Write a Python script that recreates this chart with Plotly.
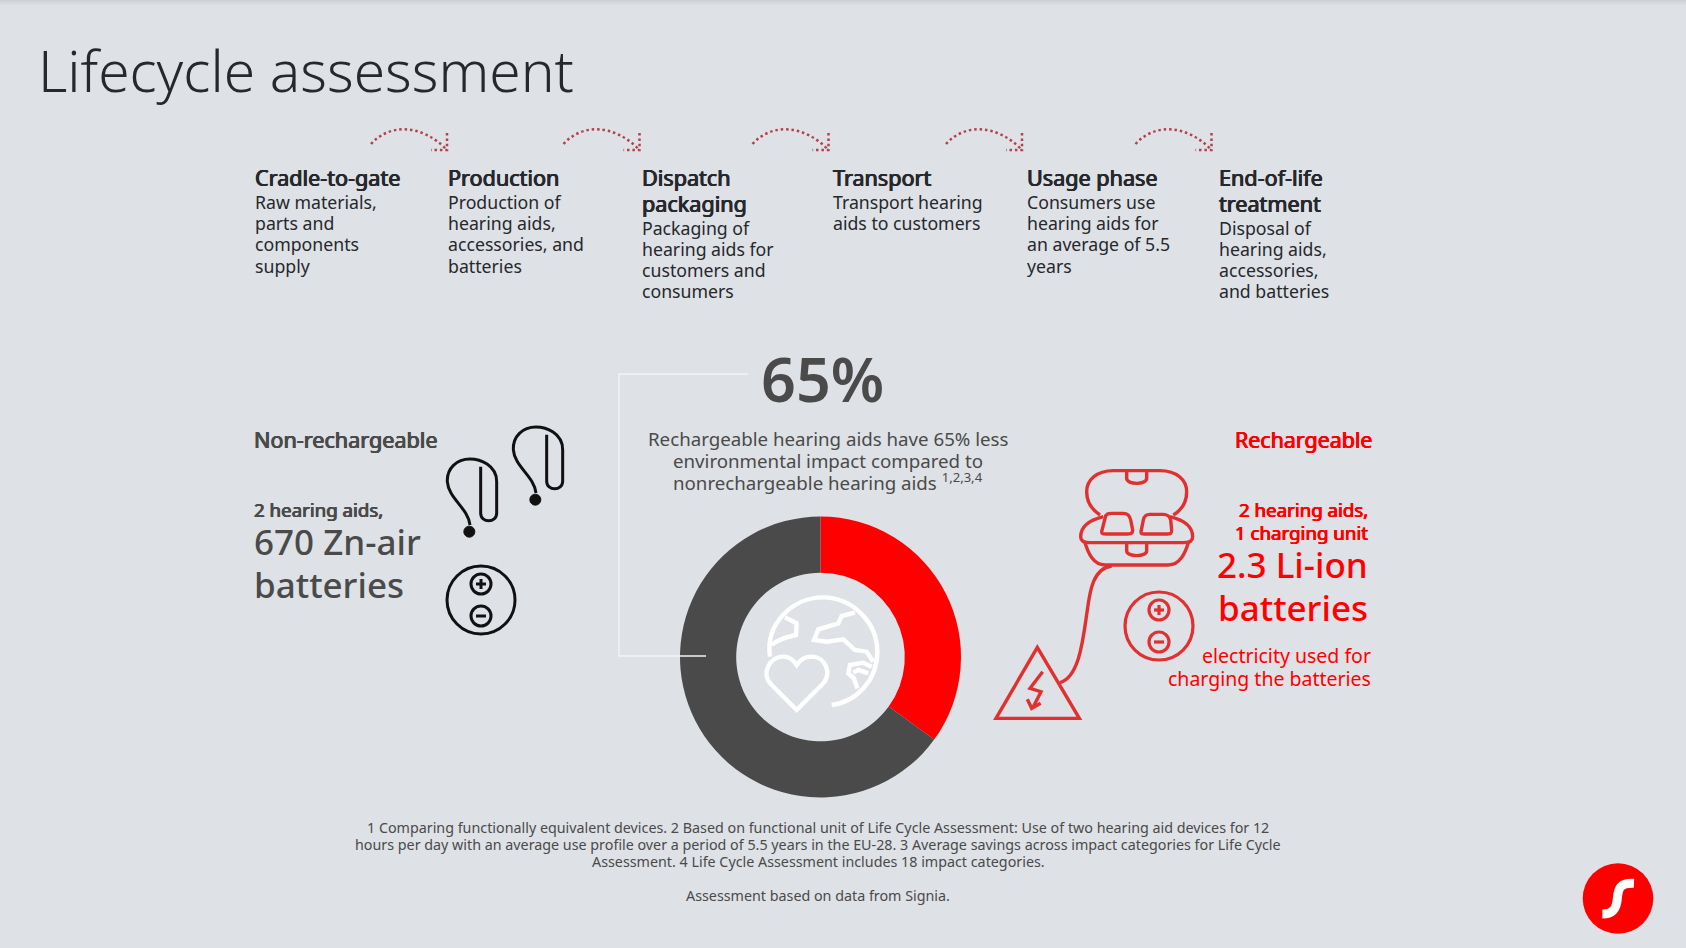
import re
import plotly.graph_objects as go

W, H = 1686, 948
BG = "#dee1e6"
DARK = "#4a4a4a"
INK = "#26282c"
RED = "#ff0000"
ICON_RED = "#e03030"
FONT = "Noto Sans"

title = "Lifecycle assessment"

# donut
slice_labels = ["Rechargeable", "Non-rechargeable"]
slice_values = [35, 65]
slice_colors = [RED, DARK]

# lifecycle steps
step_titles = [
    ["Cradle-to-gate"],
    ["Production"],
    ["Dispatch", "packaging"],
    ["Transport"],
    ["Usage phase"],
    ["End-of-life", "treatment"],
]
step_texts = [
    ["Raw materials,", "parts and", "components", "supply"],
    ["Production of", "hearing aids,", "accessories, and", "batteries"],
    ["Packaging of", "hearing aids for", "customers and", "consumers"],
    ["Transport hearing", "aids to customers"],
    ["Consumers use", "hearing aids for", "an average of 5.5", "years"],
    ["Disposal of", "hearing aids,", "accessories,", "and batteries"],
]
step_x = [253, 446, 640, 831, 1024.5, 1216.5]
arrow_x = [371, 563.5, 752.5, 946, 1135.5]

summary_big = "65%"
summary_lines = [
    "Rechargeable hearing aids have 65% less",
    "environmental impact compared to",
    "nonrechargeable hearing aids <sup>1,2,3,4</sup>",
]
footnotes = [
    "1 Comparing functionally equivalent devices. 2 Based on functional unit of Life Cycle Assessment: Use of two hearing aid devices for 12",
    "hours per day with an average use profile over a period of 5.5 years in the EU-28. 3 Average savings across impact categories for Life Cycle",
    "Assessment. 4 Life Cycle Assessment includes 18 impact categories.",
]
source_note = "Assessment based on data from Signia."

# soft shadow along the top edge of the page
top_shade = ["#cdd0d4", "#d1d4d8", "#d5d8dc", "#d8dbdf", "#dbdee3"]


def crop_path(d, ox, oy, s=1 / 3):
    # icon outlines were traced on 3x crops, bring them back to page pixels
    nums = iter(range(10000))

    def conv(m):
        v = float(m.group())
        return f"{ox + v * s:.2f}" if next(nums) % 2 == 0 else f"{oy + v * s:.2f}"

    return re.sub(r"-?\d+\.?\d*", conv, d)


shapes = []
annotations = []


def stroke(d, color, width=2.8, dash=None, fill=None):
    shapes.append(dict(type="path", path=d, xref="x", yref="y",
                       line=dict(color=color, width=width, dash=dash),
                       fillcolor=fill or "rgba(0,0,0,0)"))


def circle(cx, cy, r, color, width=2.8, fill=None):
    shapes.append(dict(type="circle", xref="x", yref="y",
                       x0=cx - r, x1=cx + r, y0=cy - r, y1=cy + r,
                       line=dict(color=color, width=width),
                       fillcolor=fill or "rgba(0,0,0,0)"))


def label(x, y, text, size, color=INK, anchor="left", weight=400, fake_bold=False):
    font = dict(family=FONT, size=size, color=color, weight=weight)
    if fake_bold:
        # the reference headings are a regular face thickened, not a true bold
        font["shadow"] = f"0.45px 0 0 {color}, -0.45px 0 0 {color}, 0 0.25px 0 {color}"
    annotations.append(dict(x=x, y=y, xref="x", yref="y", text=text, showarrow=False,
                            xanchor=anchor, yanchor="middle", align=anchor, font=font))


def battery(cx, cy, color, width=3):
    circle(cx, cy, 34, color, width)
    for yy in (cy - 16, cy + 16):
        circle(cx, yy, 10, color, width)
        stroke(f"M {cx - 5} {yy} L {cx + 5} {yy}", color, width)
    stroke(f"M {cx} {cy - 21} L {cx} {cy - 11}", color, width)


def hearing_aid(ox, oy):
    d = ("M 690 345 C 685 295 625 265 622 215 C 620 175 650 147 690 147 "
         "C 720 147 770 165 770 215 L 770 310 C 770 340 722 340 722 310 L 722 170")
    stroke(crop_path(d, ox, oy), "#111111", 3)
    circle(ox + 688 / 3, oy + 365 / 3, 5.5, "#111111", 1, "#111111")


# page shadow
for i, col in enumerate(top_shade):
    shapes.append(dict(type="rect", xref="x", yref="y", x0=0, x1=W, y0=i, y1=i + 1,
                       line=dict(width=0), fillcolor=col))

# title
label(36, 69.5, title, 56.9, INK, weight=300)

# steps
for x, heads, body in zip(step_x, step_titles, step_texts):
    y = 177.5
    for line in heads:
        label(x, y, line, 21.6, INK, fake_bold=True)
        y += 25.7
    y -= 1.4
    for line in body:
        label(x, y, line, 17.7, INK)
        y += 21.3

# dotted arrows
DOTS = "2.5px,2.9px"
ARROW = "#b5404e"
for x in arrow_x:
    dx = x - 371
    stroke(f"M {371 + dx} 144 C {390 + dx} 123 {422 + dx} 124 {447 + dx} 150", ARROW, 2.5, DOTS)
    stroke(f"M {447 + dx} 133 L {447 + dx} 150 L {431 + dx} 150", ARROW, 2.5, DOTS)

# left block
label(252, 439, "Non-rechargeable", 21.6, DARK, fake_bold=True)
label(252, 509, "2 hearing aids,", 18.7, DARK, fake_bold=True)
label(252, 541.5, "670 Zn-air", 35, DARK, weight=500)
label(252, 584, "batteries", 35, DARK, weight=500)
hearing_aid(240, 410)
hearing_aid(240 + 66, 410 - 32)
battery(481, 600, "#111111")

# middle block
label(822, 378, summary_big, 61, DARK, "center", 600)
for yy, line in zip((438, 460, 481.5), summary_lines):
    label(828, yy, line, 18.7, DARK, "center")
stroke("M 748 374 L 619 374 L 619 656 L 706 656", "#f3f4f6", 1.4)

# globe + heart in the hole
gx, gy = 670, 510
globe = [
    "M 300 440 C 285 340 370 262 458 262 C 550 262 622 340 622 425 C 622 510 560 575 485 585",
    "M 305 405 C 320 390 345 382 378 375 L 380 340 L 345 322",
    "M 555 308 L 515 318 L 505 340 L 445 358 L 432 390 L 470 395 L 520 388 L 555 420 L 590 425 L 610 455",
    "M 605 470 L 580 458 L 540 465 L 535 490 L 552 505 L 562 535",
    "M 550 488 L 565 480 L 595 490",
    "M 380 600 L 305 525 C 270 490 300 440 340 440 C 360 440 370 450 380 465 "
    "C 390 450 405 440 425 440 C 465 440 490 490 455 525 Z",
]
for d in globe:
    stroke(crop_path(d, gx, gy), "#ffffff", 4.4)

# right block
label(1373.5, 439, "Rechargeable", 21.4, RED, "right", fake_bold=True)
label(1370, 509, "2 hearing aids,", 18.7, RED, "right", fake_bold=True)
label(1370, 532, "1 charging unit", 18.7, RED, "right", fake_bold=True)
label(1370, 564, "2.3 Li-ion", 35, RED, "right", weight=500)
label(1370, 607, "batteries", 35, RED, "right", weight=500)
label(1373, 655, "electricity used for", 19.5, RED, "right")
label(1373, 678, "charging the batteries", 19.5, RED, "right")

cx, cy = 980, 420
charger = [
    "M 360 285 C 330 265 320 240 320 215 C 320 180 350 152 400 152 L 540 152 "
    "C 590 152 620 180 620 215 C 620 245 605 270 580 285",
    "M 440 155 L 440 175 C 440 195 500 195 500 175 L 500 155",
    "M 370 290 C 330 300 302 320 302 350 C 302 365 315 368 330 368 L 610 368 "
    "C 625 368 638 365 638 350 C 638 320 610 300 570 290",
    "M 315 368 C 325 400 340 435 375 435 L 565 435 C 600 435 615 400 625 368",
    "M 440 372 L 440 392 C 440 412 500 412 500 392 L 500 372",
    "M 365 335 L 375 295 C 378 280 385 280 395 280 L 430 280 C 445 280 450 290 452 300 "
    "L 458 330 C 458 342 450 342 440 342 L 380 342 C 368 342 365 342 365 335 Z",
    "M 483 335 L 490 300 C 493 285 500 283 510 283 L 550 283 C 560 283 570 290 572 300 "
    "L 575 330 C 575 342 570 342 560 342 L 495 342 C 485 342 483 342 483 335 Z",
    "M 395 438 C 340 445 330 510 322 570 C 310 650 300 770 240 788",
    "M 172 682 L 298 895 L 48 895 Z",
    "M 188 755 L 150 805 L 183 815 L 160 860",
    "M 142 838 L 155 865 L 182 850",
]
for d in charger:
    stroke(crop_path(d, cx, cy), ICON_RED, 3.4)
battery(1159, 626, ICON_RED, 3.2)

# footnotes
for yy, line in zip((827, 844, 861), footnotes):
    label(818, yy, line, 14.3, DARK, "center")
label(818, 895, source_note, 14.3, DARK, "center")

# logo
circle(1618, 898.5, 35.3, RED, 0, RED)
stroke(crop_path("M 222 130 C 175 128 175 150 172 175 C 170 205 160 222 127 222", 1560, 840), "#ffffff", 9)

donut = go.Pie(
    labels=slice_labels,
    values=slice_values,
    hole=0.6,
    sort=False,
    direction="clockwise",
    rotation=0,
    textinfo="none",
    marker=dict(colors=slice_colors, line=dict(width=0)),
    domain=dict(x=[(820.5 - 140.5) / W, (820.5 + 140.5) / W], y=[1 - (657 + 140.5) / H, 1 - (657 - 140.5) / H]),
    showlegend=False,
)

fig = go.Figure(donut)
# invisible trace so the page-pixel axes exist for shapes and labels
fig.add_trace(go.Scatter(x=[0, W], y=[0, H], mode="markers", marker=dict(opacity=0), hoverinfo="skip", showlegend=False))
fig.update_layout(
    width=W,
    height=H,
    margin=dict(l=0, r=0, t=0, b=0),
    paper_bgcolor=BG,
    plot_bgcolor="rgba(0,0,0,0)",
    xaxis=dict(range=[0, W], visible=False, fixedrange=True),
    yaxis=dict(range=[H, 0], visible=False, fixedrange=True),
    shapes=shapes,
    annotations=annotations,
    font=dict(family=FONT),
)

fig.write_html("out.html", config=dict(displayModeBar=False),
               post_script="document.body.style.margin='0';")
